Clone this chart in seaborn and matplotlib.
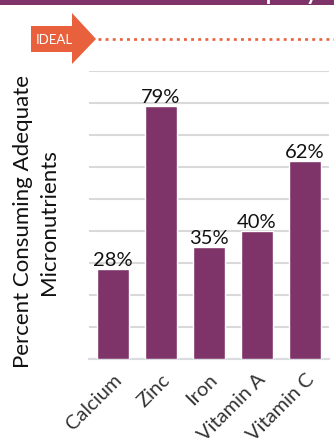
import matplotlib
matplotlib.use("Agg")
import matplotlib.pyplot as plt
import seaborn as sns
import pandas as pd
from matplotlib.patches import Polygon, Rectangle

categories = ["Calcium", "Zinc", "Iron", "Vitamin A", "Vitamin C"]
values = [28, 79, 35, 40, 62]
value_labels = ["28%", "79%", "35%", "40%", "62%"]
ylabel = "Percent Consuming Adequate\nMicronutrients"
ideal_label = "IDEAL"
title_text = "Micronutrient Adequacy"

PURPLE = "#7E3468"
ORANGE = "#E8603C"

sns.set_theme(style="white")
plt.rcParams["font.family"] = ["Lato", "DejaVu Sans"]

W, H = 334, 439
fig = plt.figure(figsize=(W / 100, H / 100), dpi=100)
ax = fig.add_axes([89 / W, 1 - 360 / H, 240 / W, 288 / H])

df = pd.DataFrame({"cat": categories, "val": values})
sns.barplot(data=df, x="cat", y="val", color=PURPLE, saturation=1, width=0.667, ax=ax, zorder=3)

ax.set_ylim(0, 90)
ax.set_xlim(-0.5, 4.5)
ax.set_yticks(range(0, 100, 10))
ax.set_yticklabels([])
ax.tick_params(axis="y", length=0)
ax.tick_params(axis="x", length=0, pad=8)
ax.yaxis.grid(True, color="#D9D9D9", linewidth=1.5, zorder=0)
ax.set_axisbelow(True)
for s in ["top", "right", "left"]:
    ax.spines[s].set_visible(False)
ax.spines["bottom"].set_color("#D9DCE0")
ax.spines["bottom"].set_linewidth(1.5)
ax.set_xlabel("")
ax.set_ylabel(ylabel, fontsize=16, color="#111111", linespacing=1.42)
ax.yaxis.label.set_horizontalalignment("center")
ax.yaxis.label.set_verticalalignment("center")
ax.yaxis.set_label_coords((36 - 89) / 240, (360 - 222) / 288)
ax.set_xticks(range(len(categories)))
ax.set_xticklabels(categories, rotation=45, ha="right", rotation_mode="anchor",
                   fontsize=14.5, color="#333333")

for i, (v, lab) in enumerate(zip(values, value_labels)):
    ax.text(i, v + 0.3, lab, ha="center", va="bottom", fontsize=14.5, color="#111111")

# overlay for decorations in pixel coordinates
ov = fig.add_axes([0, 0, 1, 1], zorder=-1)
ov.set_xlim(0, W)
ov.set_ylim(H, 0)
ov.axis("off")
ov.add_patch(Rectangle((0, 0), W, 5.5, color=PURPLE, lw=0))
ov.text(318, 0.5, title_text, ha="right", va="baseline", fontsize=16, color="white",
        fontweight="bold")
ov.add_patch(Polygon([(31, 27), (72, 27), (72, 14), (96, 40), (72, 65), (72, 53), (31, 53)],
                     closed=True, color=ORANGE, lw=0))
ov.text(54, 40.5, ideal_label, ha="center", va="center", fontsize=9.5, color="white")
ov.plot([98, 334], [40, 40], color=ORANGE, lw=1.9, linestyle=(0, (1.1, 1.6)), solid_capstyle="butt")

fig.savefig("out.png", dpi=100)
